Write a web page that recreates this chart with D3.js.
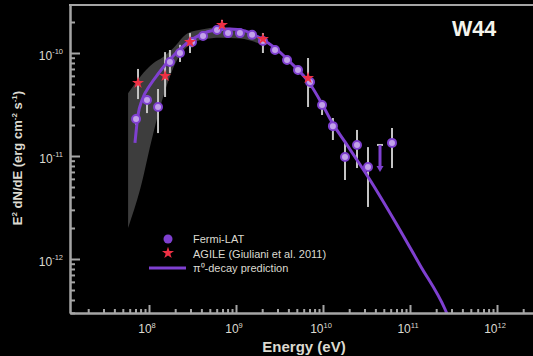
<!DOCTYPE html>
<html><head><meta charset="utf-8">
<script src="https://cdn.jsdelivr.net/npm/d3@7"></script>
<style>
body{margin:0;background:#000;}
svg{display:block;font-family:"Liberation Sans",Arial,sans-serif;}
</style>
</head><body>
<svg id="chart" width="533" height="356"></svg>
<script>
// Fermi-LAT spectral points: energy (eV), E^2 dN/dE and its 1-sigma range (erg cm^-2 s^-1)
const fermiE  = [7.10e7, 9.49e7, 1.27e8, 1.74e8, 2.27e8, 3.12e8, 4.18e8, 6.05e8, 8.10e8, 1.11e9, 1.53e9,
                 2.04e9, 2.81e9, 3.86e9, 5.16e9, 7.09e9, 9.75e9, 1.30e10, 1.79e10, 2.46e10, 3.29e10, 6.21e10];
const fermiF  = [2.29e-11, 3.50e-11, 2.99e-11, 8.18e-11, 1.00e-10, 1.28e-10, 1.46e-10, 1.67e-10, 1.56e-10, 1.56e-10, 1.50e-10,
                 1.31e-10, 1.07e-10, 8.55e-11, 6.84e-11, 5.23e-11, 3.13e-11, 1.95e-11, 9.77e-12, 1.28e-11, 7.81e-12, 1.34e-11];
const fermiLo = [2.00e-11, 2.61e-11, 1.67e-11, 6.40e-11, 8.18e-11, 1.14e-10, 1.34e-10, 1.57e-10, 1.47e-10, 1.47e-10, 1.41e-10,
                 1.23e-10, 1.00e-10, 7.90e-11, 6.20e-11, 4.60e-11, 2.50e-11, 1.43e-11, 5.85e-12, 7.64e-12, 3.20e-12, 7.64e-12];
const fermiHi = [2.56e-11, 3.91e-11, 4.47e-11, 1.07e-10, 1.20e-10, 1.40e-10, 1.56e-10, 1.78e-10, 1.65e-10, 1.65e-10, 1.59e-10,
                 1.40e-10, 1.14e-10, 9.20e-11, 7.50e-11, 5.90e-11, 3.50e-11, 2.34e-11, 1.40e-11, 1.79e-11, 1.22e-11, 1.87e-11];

// Fermi-LAT upper limit
const ulE = [4.52e10];
const ulF = [1.28e-11];
const ulTip = [7.0e-12];

// AGILE points (Giuliani et al. 2011)
const agileE  = [7.48e7, 1.53e8, 2.96e8, 6.90e8, 2.04e9, 6.73e9];
const agileF  = [5.12e-11, 5.98e-11, 1.28e-10, 1.87e-10, 1.37e-10, 5.71e-11];
const agileLo = [3.57e-11, 3.74e-11, 1.00e-10, 1.64e-10, 1.00e-10, 2.99e-11];
const agileHi = [7.00e-11, 1.02e-10, 1.56e-10, 2.09e-10, 1.56e-10, 8.94e-11];

// pi0-decay model curve
const piE = [6.90e7, 7.48e7, 8.32e7, 1.03e8, 1.27e8, 1.53e8, 1.99e8, 2.74e8, 3.85e8, 5.74e8, 8.53e8, 1.27e9,
             1.89e9, 2.81e9, 4.18e9, 7.10e9, 9.75e9, 1.30e10, 1.79e10, 2.46e10, 3.47e10, 7.10e10, 1.30e11, 2.52e11, 3.0e11];
const piF = [1.34e-11, 2.50e-11, 3.50e-11, 4.89e-11, 6.25e-11, 7.64e-11, 9.77e-11, 1.25e-10, 1.50e-10, 1.67e-10, 1.71e-10, 1.64e-10,
             1.40e-10, 1.12e-10, 8.18e-11, 5.00e-11, 3.20e-11, 2.05e-11, 1.37e-11, 9.14e-12, 5.85e-12, 2.14e-12, 8.75e-13, 3.27e-13, 2.3e-13];

// systematic band
const bandE  = [5.75e7, 7.94e7, 1.12e8, 1.45e8, 1.91e8, 2.75e8, 4.17e8, 6.61e8, 1.12e9, 2.04e9];
const bandLo = [2.0e-12, 4.8e-12, 1.66e-11, 3.72e-11, 7.24e-11, 1.15e-10, 1.35e-10, 1.41e-10, 1.38e-10, 1.20e-10];
const bandHi = [4.07e-11, 5.89e-11, 7.94e-11, 9.12e-11, 1.12e-10, 1.55e-10, 1.70e-10, 1.78e-10, 1.70e-10, 1.41e-10];

// axis ticks
const xMajor = [1e8, 1e9, 1e10, 1e11, 1e12];
const xMajorLabels = ["8", "9", "10", "11", "12"];
const yMajor = [1e-12, 1e-11, 1e-10];
const yMajorLabels = ["-12", "-11", "-10"];

const legendLabels = ["Fermi-LAT", "AGILE (Giuliani et al. 2011)", "\u03c0\u2070-decay prediction"];

const PURPLE = "#7f40d0", FILL = "#c2a2ea", RED = "#ee3044", FG = "#dcdad0", AX = "#a5a5a5";

const svg = d3.select("#chart");
svg.append("rect").attr("width", 533).attr("height", 356).attr("fill", "#000");

const pLeft = 70, pTop = 5, pBottom = 313, pRight = 533;
const x = d3.scaleLog().domain([Math.pow(10, 8 - 79 / 87), Math.pow(10, 12 + 36 / 87)]).range([pLeft, pRight]);
const y = d3.scaleLog().domain([Math.pow(10, -12 - 54 / 103), Math.pow(10, -10 + 48 / 103)]).range([pBottom, pTop]);

svg.append("clipPath").attr("id", "plot")
  .append("rect").attr("x", pLeft).attr("y", pTop).attr("width", pRight - pLeft).attr("height", pBottom - pTop);
const g = svg.append("g").attr("clip-path", "url(#plot)");

// systematic band
const bandData = bandE.map((e, i) => ({e, lo: bandLo[i], hi: bandHi[i]}));
g.append("path").datum(bandData)
  .attr("fill", "#3d3d3d")
  .attr("d", d3.area().x(d => x(d.e)).y0(d => y(d.lo)).y1(d => y(d.hi)).curve(d3.curveMonotoneX));

// error bars
const fermi = fermiE.map((e, i) => ({e, f: fermiF[i], lo: fermiLo[i], hi: fermiHi[i]}));
const agile = agileE.map((e, i) => ({e, f: agileF[i], lo: agileLo[i], hi: agileHi[i]}));
g.selectAll(".eb").data(fermi.concat(agile)).join("line")
  .attr("x1", d => x(d.e)).attr("x2", d => x(d.e))
  .attr("y1", d => y(d.lo)).attr("y2", d => y(d.hi))
  .attr("stroke", "#c4c4c4").attr("stroke-width", 2);

// pi0-decay model
const piData = piE.map((e, i) => ({e, f: piF[i]}));
g.append("path").datum(piData)
  .attr("fill", "none").attr("stroke", PURPLE).attr("stroke-width", 3)
  .attr("d", d3.line().x(d => x(d.e)).y(d => y(d.f)).curve(d3.curveMonotoneX));

// upper limit
const ul = ulE.map((e, i) => ({e, f: ulF[i], t: ulTip[i]}));
ul.forEach(d => {
  const cx = x(d.e), y0 = y(d.f), y1 = y(d.t);
  g.append("line").attr("x1", cx - 3).attr("x2", cx + 3).attr("y1", y0).attr("y2", y0)
    .attr("stroke", "#c4c4c4").attr("stroke-width", 2);
  g.append("line").attr("x1", cx).attr("x2", cx).attr("y1", y0).attr("y2", y1 - 4)
    .attr("stroke", PURPLE).attr("stroke-width", 3);
  g.append("path").attr("d", `M${cx - 3.5},${y1 - 6}L${cx + 3.5},${y1 - 6}L${cx},${y1}Z`).attr("fill", PURPLE);
});

// Fermi points
g.selectAll(".fp").data(fermi).join("circle")
  .attr("cx", d => x(d.e)).attr("cy", d => y(d.f)).attr("r", 4)
  .attr("fill", FILL).attr("stroke", PURPLE).attr("stroke-width", 2);

// AGILE points
const star = d3.symbol().type(d3.symbolStar).size(45);
g.selectAll(".ap").data(agile).join("path")
  .attr("transform", d => `translate(${x(d.e)},${y(d.f)})`)
  .attr("d", star).attr("fill", RED);

// axes: ticks pointing into the plot
const minorX = [], minorY = [];
for (let p = 7; p <= 12; p++) for (let k = 2; k <= 9; k++) {
  const v = k * Math.pow(10, p);
  if (v > x.domain()[0] && v < x.domain()[1]) minorX.push(v);
}
for (let p = -13; p <= -10; p++) for (let k = 2; k <= 9; k++) {
  const v = k * Math.pow(10, p);
  if (v > y.domain()[0] && v < y.domain()[1]) minorY.push(v);
}
function styleAxis(sel) {
  sel.selectAll("path,line").attr("stroke", AX).attr("stroke-width", 2);
  sel.selectAll("text").remove();
}
svg.append("g").attr("transform", `translate(0,${pBottom})`)
  .call(d3.axisBottom(x).tickValues(xMajor).tickSize(-8).tickSizeOuter(0).tickFormat(""))
  .call(styleAxis);
svg.append("g").attr("transform", `translate(0,${pBottom})`)
  .call(d3.axisBottom(x).tickValues(minorX).tickSize(-4).tickSizeOuter(0).tickFormat(""))
  .call(styleAxis);
svg.append("g").attr("transform", `translate(${pLeft},0)`)
  .call(d3.axisLeft(y).tickValues(yMajor).tickSize(-10).tickSizeOuter(0).tickFormat(""))
  .call(styleAxis);
svg.append("g").attr("transform", `translate(${pLeft},0)`)
  .call(d3.axisLeft(y).tickValues(minorY).tickSize(-5).tickSizeOuter(0).tickFormat(""))
  .call(styleAxis);
svg.append("line").attr("x1", pLeft - 1).attr("x2", pRight).attr("y1", pTop).attr("y2", pTop)
  .attr("stroke", AX).attr("stroke-width", 2);

// tick labels
xMajor.forEach((v, i) => {
  const t = svg.append("text").attr("x", x(v) - 2).attr("y", 333)
    .attr("text-anchor", "middle").attr("fill", FG).attr("font-size", 12);
  t.append("tspan").text("10");
  t.append("tspan").attr("dy", -5).attr("font-size", 7.5).text(xMajorLabels[i]);
});
yMajor.forEach((v, i) => {
  const t = svg.append("text").attr("x", 63).attr("y", y(v) + 7)
    .attr("text-anchor", "end").attr("fill", FG).attr("font-size", 12);
  t.append("tspan").text("10");
  t.append("tspan").attr("dy", -6).attr("font-size", 7.5).text(yMajorLabels[i]);
});

// axis titles
svg.append("text").attr("x", 304).attr("y", 352).attr("text-anchor", "middle")
  .attr("fill", FG).attr("font-size", 15).attr("font-weight", "bold").text("Energy (eV)");
const yt = svg.append("text").attr("transform", "translate(22,158) rotate(-90)")
  .attr("text-anchor", "middle").attr("fill", FG).attr("font-size", 13).attr("font-weight", "bold");
yt.append("tspan").text("E");
yt.append("tspan").attr("dy", -5).attr("font-size", 8).text("2");
yt.append("tspan").attr("dy", 5).text(" dN/dE (erg cm");
yt.append("tspan").attr("dy", -5).attr("font-size", 8).text("-2");
yt.append("tspan").attr("dy", 5).text(" s");
yt.append("tspan").attr("dy", -5).attr("font-size", 8).text("-1");
yt.append("tspan").attr("dy", 5).text(")");

// source name
svg.append("text").attr("x", 452).attr("y", 36).attr("fill", "#f4f4ec")
  .attr("font-size", 21.5).attr("font-weight", "bold").text("W44");

// legend
const lg = svg.append("g");
lg.append("circle").attr("cx", 168).attr("cy", 239).attr("r", 4.5).attr("fill", PURPLE);
lg.append("path").attr("transform", "translate(168,253)").attr("d", star).attr("fill", RED);
lg.append("line").attr("x1", 149).attr("x2", 186).attr("y1", 268).attr("y2", 268)
  .attr("stroke", PURPLE).attr("stroke-width", 3);
legendLabels.forEach((s, i) => {
  lg.append("text").attr("x", 193).attr("y", 243 + i * 14.5).attr("fill", FG)
    .attr("font-size", 11).text(s);
});
</script>
</body></html>
